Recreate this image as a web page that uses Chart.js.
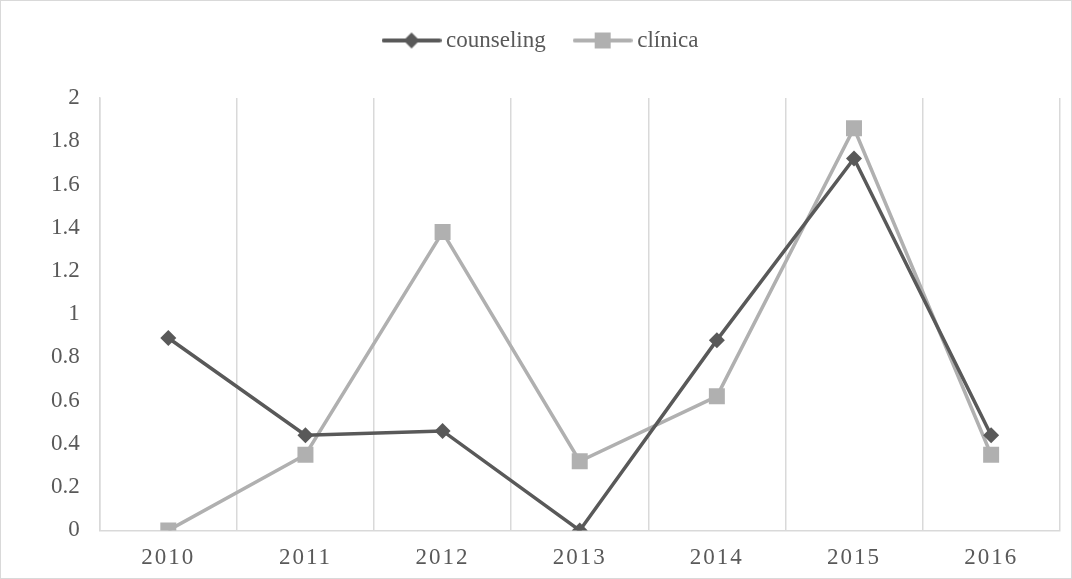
<!DOCTYPE html>
<html>
<head>
<meta charset="utf-8">
<script src="https://cdn.jsdelivr.net/npm/chart.js@4/dist/chart.umd.min.js"></script>
<style>
    html, body { margin: 0; padding: 0; background: #fff; }
    .frame {
        width: 1070px; height: 577px;
        border: 1px solid #d9d9d9;
        position: relative;
    }
</style>
</head>
<body>
<div class="frame"><canvas id="lineChart" width="1070" height="577"></canvas></div>
<script>
// ── data ──
const years = ['2010', '2011', '2012', '2013', '2014', '2015', '2016'];
const counseling = [0.89, 0.44, 0.46, 0, 0.88, 1.72, 0.44];
const clinica = [0, 0.35, 1.38, 0.32, 0.62, 1.86, 0.35];

const DARK = '#595959';
const LIGHT = '#b0b0b0';
const GRID = '#d9d9d9';
const FONT = "'Liberation Serif', 'Times New Roman', serif";

// legend swatch: short line with the marker in the middle
function legendSwatch(color, shape) {
    const c = document.createElement('canvas');
    c.width = 60; c.height = 18;
    const g = c.getContext('2d');
    g.strokeStyle = color;
    g.lineWidth = 4;
    g.lineCap = 'round';
    g.beginPath();
    g.moveTo(2, 9); g.lineTo(58, 9);
    g.stroke();
    g.fillStyle = color;
    g.beginPath();
    if (shape === 'diamond') {
        g.moveTo(30, 1); g.lineTo(38, 9); g.lineTo(30, 17); g.lineTo(22, 9);
    } else {
        g.rect(22, 1, 16, 16);
    }
    g.closePath();
    g.fill();
    return c;
}
const swatches = [legendSwatch(DARK, 'diamond'), legendSwatch(LIGHT, 'square')];

// x tick labels in the reference are letter-spaced
const spacedXLabels = {
    id: 'spacedXLabels',
    beforeDraw(chart) {
        const xs = chart.scales.x;
        if (!xs || xs._spaced) return;
        const orig = xs.drawLabels.bind(xs);
        xs.drawLabels = function(area) {
            const ctx = chart.ctx;
            ctx.save();
            ctx.letterSpacing = '2px';
            orig(area);
            ctx.restore();
        };
        xs._spaced = true;
    }
};

// legend: fixed band height, nudged into place
const legendPlace = {
    id: 'legendPlace',
    beforeInit(chart) {
        const lg = chart.legend;
        if (!lg) return;
        const fit = lg.fit;
        lg.fit = function() {
            fit.call(this);
            this.height = 97;
        };
    },
    afterLayout(chart) {
        const lg = chart.legend;
        if (!lg) return;
        lg.left -= 7; lg.right -= 7;
        lg.top -= 6; lg.bottom -= 6;
    }
};

new Chart(document.getElementById('lineChart').getContext('2d'), {
    type: 'line',
    data: {
        labels: years,
        datasets: [{
            label: 'counseling',
            data: counseling,
            borderColor: DARK,
            backgroundColor: DARK,
            borderWidth: 3.5,
            pointStyle: 'rectRot',
            pointRadius: 8,
            pointHoverRadius: 8,
            pointBorderWidth: 0,
            tension: 0,
        }, {
            label: 'clínica',
            data: clinica,
            borderColor: LIGHT,
            backgroundColor: LIGHT,
            borderWidth: 3.5,
            pointStyle: 'rect',
            pointRadius: 11.3,
            pointHoverRadius: 11.3,
            pointBorderWidth: 0,
            tension: 0,
        }],
    },
    plugins: [spacedXLabels, legendPlace],
    options: {
        responsive: false,
        animation: false,
        layout: { padding: { left: 30, right: 1, top: 0, bottom: -8 } },
        plugins: {
            tooltip: { enabled: false },
            legend: {
                position: 'top',
                labels: {
                    color: DARK,
                    font: { family: FONT, size: 23 },
                    usePointStyle: true,
                    pointStyleWidth: 46,
                    padding: 34,
                    generateLabels: (chart) => chart.data.datasets.map((ds, i) => ({
                        text: ds.label,
                        fontColor: DARK,
                        pointStyle: swatches[i],
                        strokeStyle: ds.borderColor,
                        fillStyle: ds.backgroundColor,
                        lineWidth: 0,
                        datasetIndex: i,
                    })),
                },
            },
        },
        scales: {
            x: {
                offset: true,
                grid: { offset: true, color: GRID, lineWidth: 1.5, drawTicks: false },
                border: { display: true, color: GRID, width: 1.5 },
                ticks: {
                    color: DARK,
                    font: { family: FONT, size: 23 },
                    padding: 14,
                    maxRotation: 0,
                },
            },
            y: {
                min: 0,
                max: 2,
                grid: { display: false, drawTicks: false },
                border: { display: true, color: GRID, width: 1.5 },
                ticks: {
                    stepSize: 0.2,
                    color: DARK,
                    font: { family: FONT, size: 23 },
                    padding: 20,
                    callback: (v) => String(parseFloat(v.toFixed(1))),
                },
            },
        },
    },
});
</script>
</body>
</html>
